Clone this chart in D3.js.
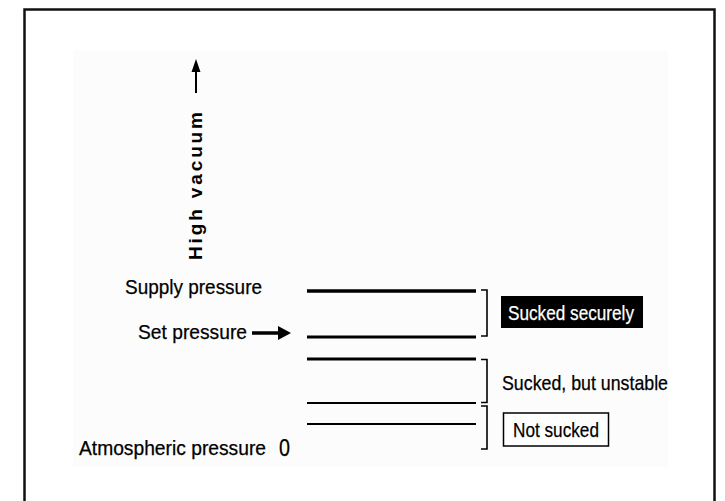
<!DOCTYPE html>
<html>
<head>
<meta charset="utf-8">
<script src="https://cdn.jsdelivr.net/npm/d3@7"></script>
<style>
  html, body { margin: 0; padding: 0; background: #fff; }
  svg { display: block; }
</style>
</head>
<body>
<svg id="chart" width="725" height="501"></svg>
<script>
// ---- data ----
const axisTitle = "High vacuum";
const levelLabels = ["Supply pressure", "Set pressure", "Atmospheric pressure"];
const levelLabelValues = [7.95, 5.65, 0];
const zeroTick = [0];
const lineValues = [7.95, 5.65, 4.55, 2.35, 1.3];
const zoneLabels = ["Sucked securely", "Sucked, but unstable", "Not sucked"];
const zoneHigh = [8.0, 4.525, 2.2];
const zoneLow = [5.7, 2.375, 0.05];

// ---- layout ----
const svg = d3.select("#chart");
const y = d3.scaleLinear().domain([0, 10]).range([450, 250]);
const x = d3.scaleLinear().domain([0, 1]).range([307, 476]);
const FONT = "'Liberation Sans', Arial, sans-serif";

// outer frame (bottom edge runs off the picture)
svg.append("rect").attr("x", 24.5).attr("y", 9.5).attr("width", 690).attr("height", 600)
  .attr("fill", "#fff").attr("stroke", "#111").attr("stroke-width", 2.5);
// faint inner panel
svg.append("rect").attr("x", 73).attr("y", 50).attr("width", 595).attr("height", 417)
  .attr("fill", "#fcfcfc");

// up arrow + rotated title
svg.append("line").attr("x1", 196).attr("x2", 196).attr("y1", 93).attr("y2", 62)
  .attr("stroke", "#000").attr("stroke-width", 2);
svg.append("path").attr("d", "M191.5,72 L196,59 L200.5,72 Z").attr("fill", "#000");
svg.append("text").attr("transform", "translate(201.5,260) rotate(-90)")
  .attr("font-family", FONT).attr("font-weight", "bold")
  .attr("font-size", 19).attr("textLength", 148).attr("lengthAdjust", "spacing")
  .text(axisTitle);

// level lines
const lineWidths = [3.5, 3, 3, 2, 2];
svg.selectAll("line.level").data(lineValues).enter().append("line").attr("class", "level")
  .attr("x1", x(0)).attr("x2", x(1))
  .attr("y1", d => y(d)).attr("y2", d => y(d))
  .attr("stroke", "#000").attr("stroke-width", (d, i) => lineWidths[i]);

// left labels (tall, condensed lettering)
const labelX = [125, 138, 79];
const labelLen = [137, 109, 187];
const labelSize = [21, 21, 19.5];
const labelDy = [2.5, 1.5, 5];
const txt = sel => sel.attr("font-family", FONT).attr("font-size", 21)
  .attr("stroke", "currentColor").attr("stroke-width", 0.25)
  .attr("lengthAdjust", "spacingAndGlyphs");
svg.selectAll("text.lvl").data(levelLabels).enter().append("text").attr("class", "lvl")
  .attr("x", (d, i) => labelX[i]).attr("y", (d, i) => y(levelLabelValues[i]) + labelDy[i])
  .attr("fill", "#000").style("color", "#000")
  .call(txt).attr("font-size", (d, i) => labelSize[i]).attr("textLength", (d, i) => labelLen[i])
  .text(d => d);
// zero tick value
svg.selectAll("text.zero").data(zeroTick).enter().append("text").attr("class", "zero")
  .attr("x", 279).attr("y", d => y(d) + 6).attr("fill", "#000").style("color", "#000")
  .call(txt).attr("font-size", 23).attr("textLength", 11).text(d => d);

// set-pressure arrow
const ay = y(levelLabelValues[1]) - 4;
svg.append("line").attr("x1", 252).attr("x2", 281).attr("y1", ay).attr("y2", ay)
  .attr("stroke", "#000").attr("stroke-width", 3.5);
svg.append("path").attr("d", `M278,${ay - 7} L291,${ay} L278,${ay + 7} Z`).attr("fill", "#000");

// brackets
svg.selectAll("path.br").data(zoneLabels).enter().append("path").attr("class", "br")
  .attr("d", (d, i) => `M481,${y(zoneHigh[i])} H487 V${y(zoneLow[i])} H481`)
  .attr("fill", "none").attr("stroke", "#000").attr("stroke-width", 1.6);

// zone labels
const mid = i => (y(zoneHigh[i]) + y(zoneLow[i])) / 2;
// 0: black box, white text
svg.append("rect").attr("x", 501).attr("y", mid(0) - 17).attr("width", 142).attr("height", 32)
  .attr("fill", "#000");
svg.append("text").attr("x", 508).attr("y", mid(0) + 7).attr("fill", "#fff").style("color", "#fff")
  .call(txt).attr("textLength", 126).text(zoneLabels[0]);
// 1: plain text
svg.append("text").attr("x", 502).attr("y", mid(1) + 9).attr("fill", "#000").style("color", "#000")
  .call(txt).attr("textLength", 166).text(zoneLabels[1]);
// 2: outlined box
svg.append("rect").attr("x", 503.5).attr("y", mid(2) - 14.5).attr("width", 105).attr("height", 33)
  .attr("fill", "#fff").attr("stroke", "#000").attr("stroke-width", 1.5);
svg.append("text").attr("x", 513).attr("y", mid(2) + 9).attr("fill", "#000").style("color", "#000")
  .call(txt).attr("textLength", 86).text(zoneLabels[2]);
</script>
</body>
</html>
